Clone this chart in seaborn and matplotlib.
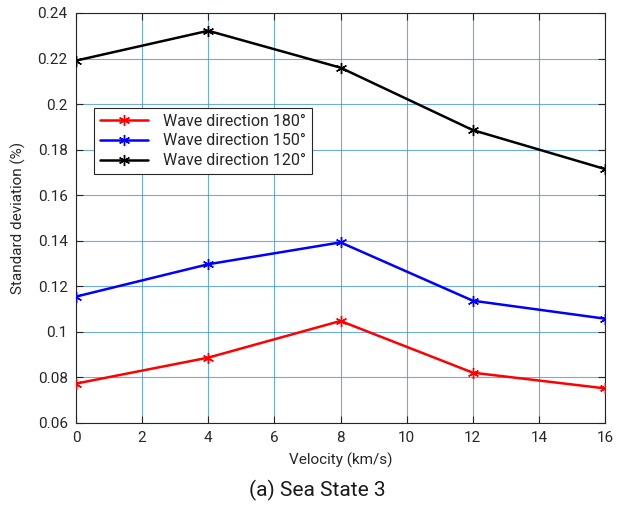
import matplotlib
matplotlib.use("Agg")
import matplotlib.pyplot as plt
import seaborn as sns
import pandas as pd
from matplotlib.ticker import FuncFormatter

velocity = [0, 4, 8, 12, 16]
dir180 = [0.0773, 0.0887, 0.1048, 0.0821, 0.0752]
dir150 = [0.1155, 0.1297, 0.1393, 0.1137, 0.1058]
dir120 = [0.2191, 0.2322, 0.2160, 0.1886, 0.1715]
labels = ["Wave direction 180°", "Wave direction 150°", "Wave direction 120°"]
colors = ["#ff0000", "#0000ff", "#000000"]

sns.set_theme(style="white")
plt.rcParams['font.family'] = ['Roboto', 'DejaVu Sans']

fig = plt.figure(figsize=(6.18, 5.13), dpi=100)
ax = fig.add_axes([76/618, 1 - 423/513, (605-76)/618, (423-13)/513])

ax.grid(True, color="#3d93d3", linewidth=0.8, alpha=0.75)
ax.set_axisbelow(True)

for vals, lab, col in zip([dir180, dir150, dir120], labels, colors):
    d = pd.DataFrame({"Velocity": velocity, "Std": vals})
    sns.lineplot(data=d, x="Velocity", y="Std", color=col, label=lab,
                 marker=(6, 2, 0), markersize=8, markeredgewidth=1.0,
                 markeredgecolor=col, markerfacecolor=col,
                 linewidth=1.8, ax=ax, zorder=3)

ax.set_xlim(0, 16)
ax.set_ylim(0.06, 0.24)
ax.set_xticks(range(0, 17, 2))
ax.set_yticks([0.06 + 0.02 * i for i in range(10)])
ax.yaxis.set_major_formatter(FuncFormatter(lambda v, p: f"{v:.2f}".rstrip('0')))
ax.tick_params(direction="in", length=5, width=0.8, colors="#262626",
               labelsize=11, top=True, right=True, bottom=True, left=True,
               labelcolor="#262626", pad=6)
for s in ax.spines.values():
    s.set_color("#262626")
    s.set_linewidth(0.8)

ax.set_xlabel("Velocity (km/s)", fontsize=11, color="#262626", labelpad=5)
ax.set_ylabel("Standard deviation (%)", fontsize=11, color="#262626", labelpad=8)

leg = ax.legend(loc="upper left", bbox_to_anchor=(18/529, 1 - 95/410),
                fontsize=11.5, frameon=True, fancybox=False, edgecolor="#262626",
                framealpha=1, borderpad=0.35, labelspacing=0.3, handlelength=3.0,
                handletextpad=1.0, borderaxespad=0)
leg.get_frame().set_linewidth(0.8)

fig.text(317/618, 1 - 490/513, "(a) Sea State 3", ha="center", va="center",
         fontsize=15, color="#1a1a1a")

fig.savefig("out.png", dpi=100, facecolor="white")
